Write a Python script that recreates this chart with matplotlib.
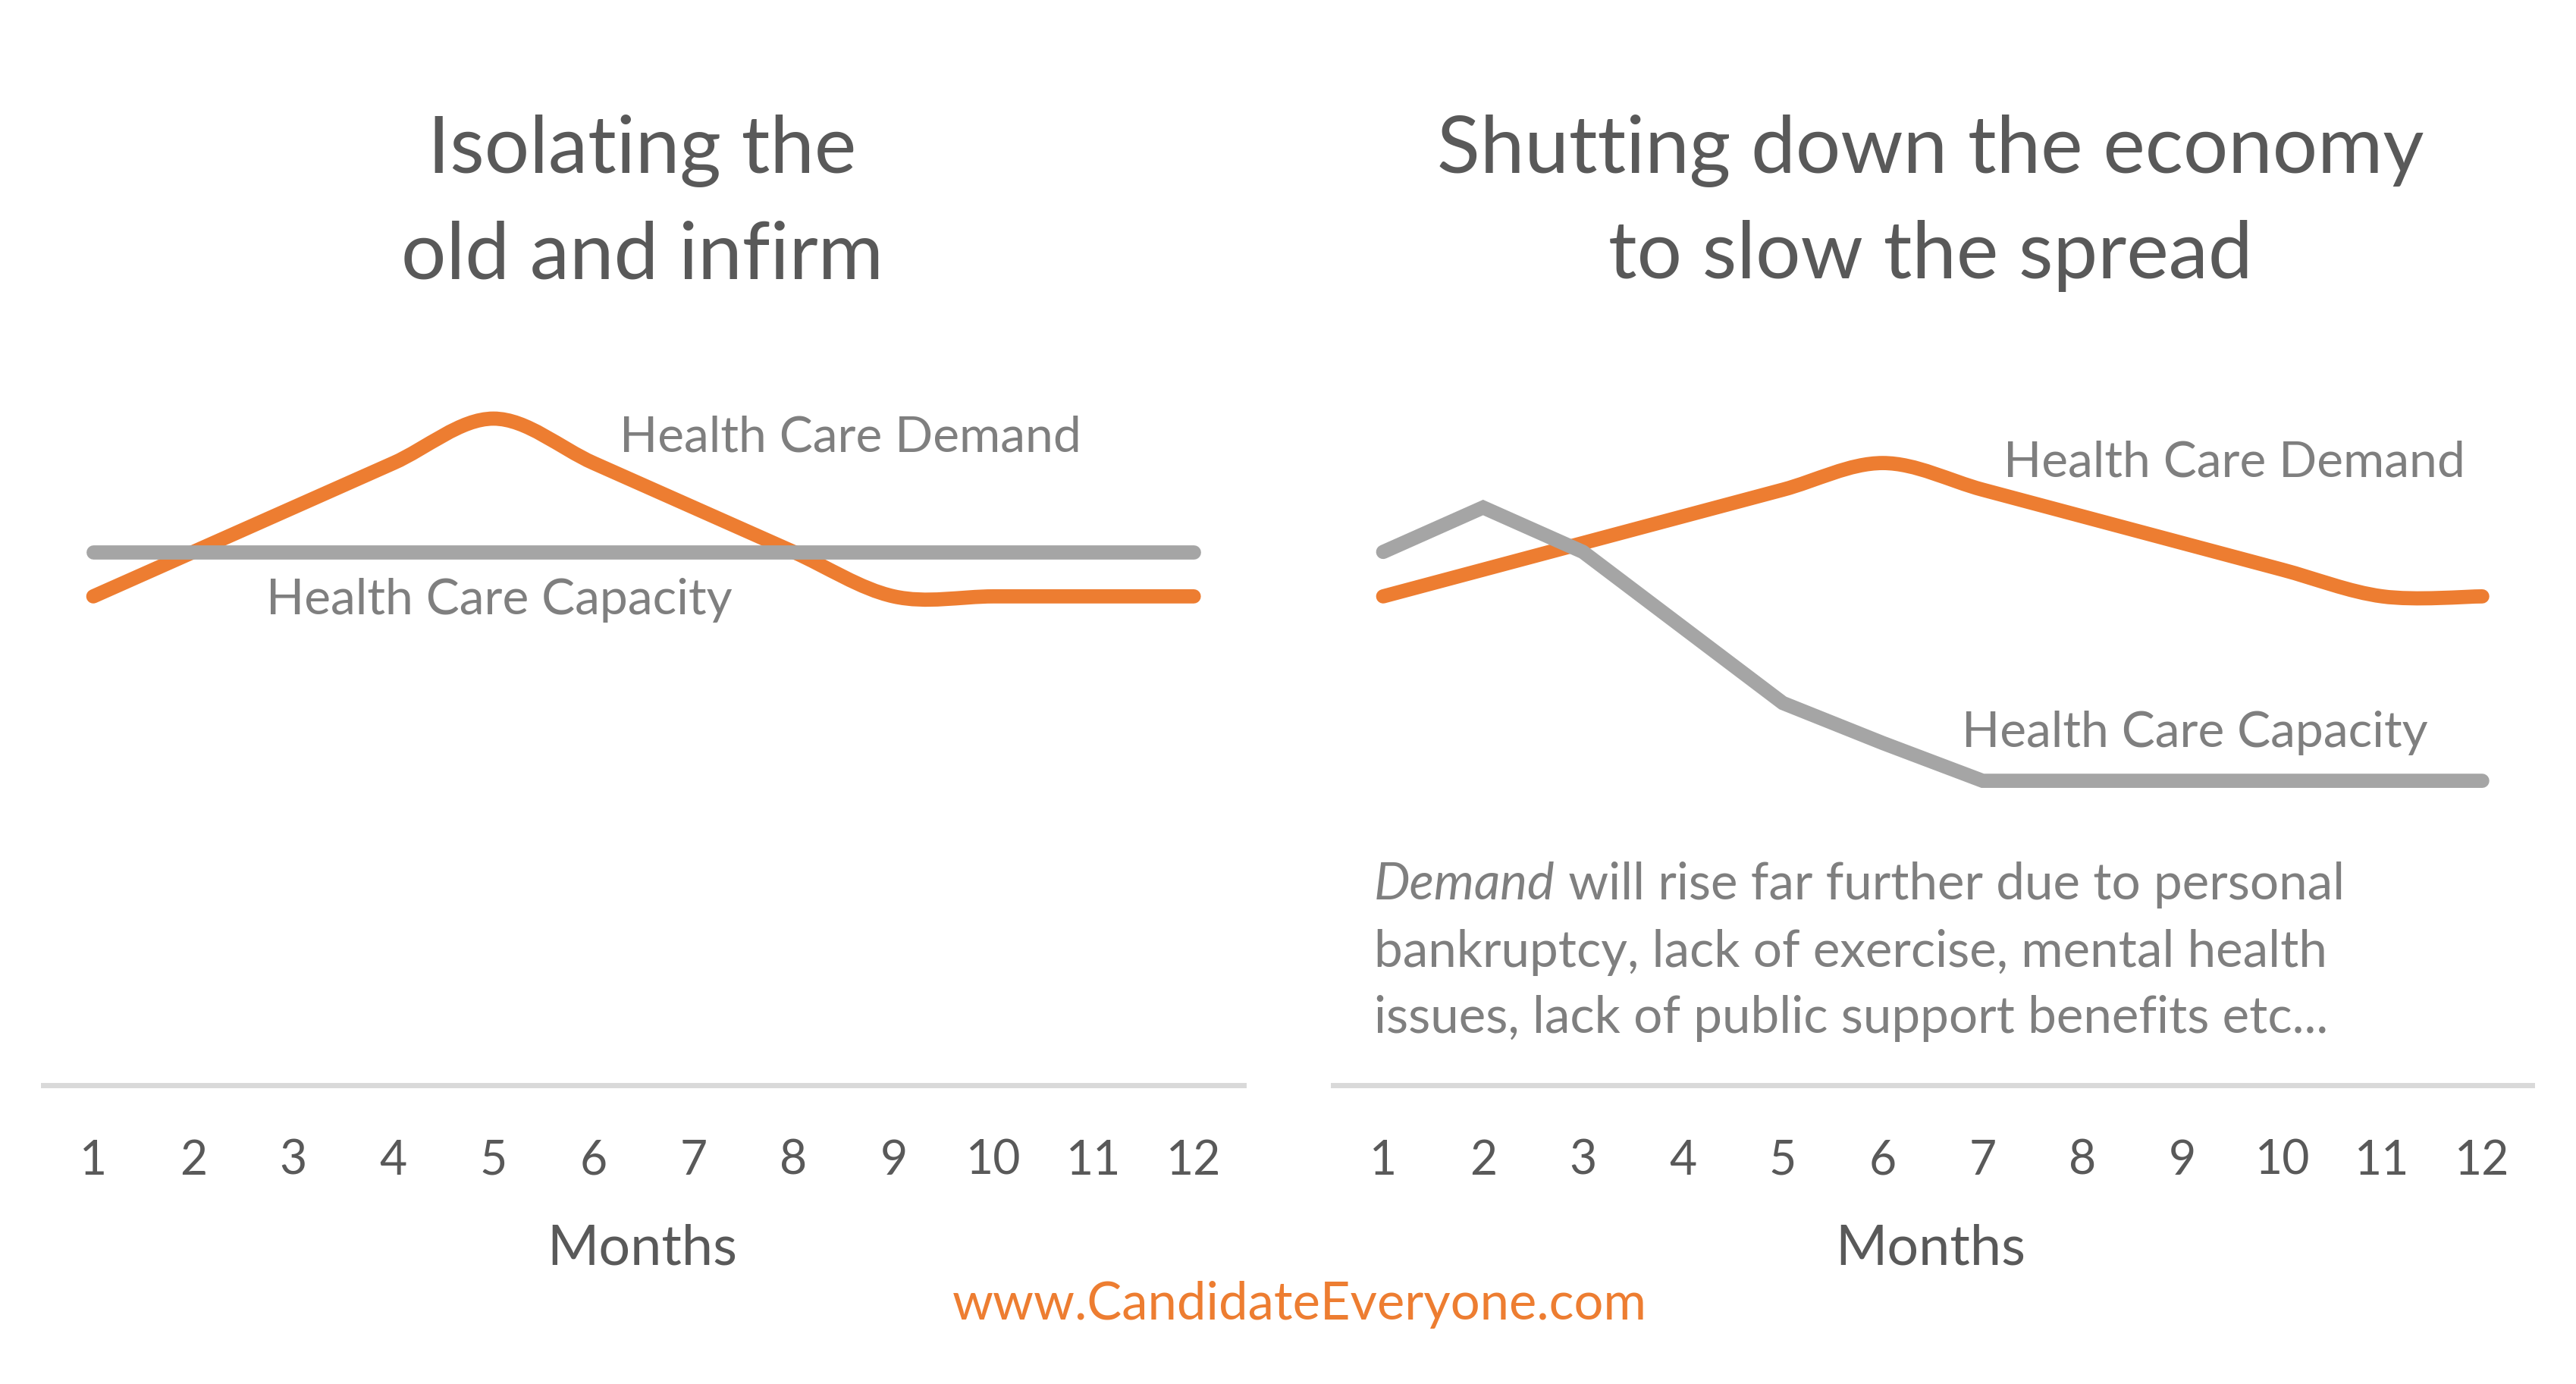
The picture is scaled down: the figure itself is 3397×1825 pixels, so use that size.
import matplotlib
matplotlib.use('Agg')
import matplotlib.pyplot as plt
import numpy as np
from matplotlib.path import Path
from matplotlib.patches import PathPatch

plt.rcParams['font.family'] = ['Lato', 'DejaVu Sans']

months = list(range(1, 13))
month_labels = [str(m) for m in months]

# left panel - isolating the old and infirm
left_demand = [11, 12, 13, 14, 15, 14, 13, 12, 11, 11, 11, 11]
left_capacity = [12, 12, 12, 12, 12, 12, 12, 12, 12, 12, 12, 12]

# right panel - shutting down the economy
right_demand = [11, 11.6, 12.2, 12.8, 13.4, 14, 13.4, 12.8, 12.2, 11.6, 11, 11]
right_capacity = [12, 13, 12, 10.3, 8.6, 7.7, 6.85, 6.85, 6.85, 6.85, 6.85, 6.85]

left_title = ['Isolating the', 'old and infirm']
right_title = ['Shutting down the economy', 'to slow the spread']
note_lines = ['bankruptcy, lack of exercise, mental health',
              'issues, lack of public support benefits etc...']

ORANGE = '#ED7D31'
GRAY = '#A5A5A5'
DARK = '#595959'
LABEL = '#7F7F7F'
LW = 13.5


def smooth_path(x, y):
    # excel style smoothed line: cubic bezier with catmull-rom control points
    pts = np.column_stack([x, y]).astype(float)
    n = len(pts)
    verts = [pts[0]]
    codes = [Path.MOVETO]
    for i in range(n - 1):
        p0 = pts[max(i - 1, 0)]
        p1 = pts[i]
        p2 = pts[i + 1]
        p3 = pts[min(i + 2, n - 1)]
        verts += [p1 + (p2 - p0) / 6, p2 - (p3 - p1) / 6, p2]
        codes += [Path.CURVE4] * 3
    return Path(verts, codes)


def setup(ax):
    ax.set_xlim(0.5, 12.5)
    ax.set_ylim(0, 16.5)
    for s in ['top', 'left', 'right']:
        ax.spines[s].set_visible(False)
    ax.spines['bottom'].set_color('#D9D9D9')
    ax.spines['bottom'].set_linewidth(5)
    ax.set_yticks([])
    ax.set_xticks(months, month_labels)
    ax.tick_params(axis='x', length=0, pad=51, labelsize=45, labelcolor=DARK)


fig = plt.figure(figsize=(33.98, 18.25), dpi=100)
axL = fig.add_axes([0.0168, 0.2159, 0.4659, 0.5298])
axR = fig.add_axes([0.5174, 0.2159, 0.4653, 0.5298])
setup(axL)
setup(axR)

# left chart
axL.add_patch(PathPatch(smooth_path(months, left_demand), fill=False, edgecolor=ORANGE,
                        lw=LW, capstyle='round', joinstyle='round'))
axL.plot(months, left_capacity, color=GRAY, lw=LW, solid_capstyle='round')
axL.text(6.26, 14.58, 'Health Care Demand', fontsize=47.5, color=LABEL, va='center', ha='left')
axL.text(2.73, 10.91, 'Health Care Capacity', fontsize=47.5, color=LABEL, va='center', ha='left')

# right chart
axR.add_patch(PathPatch(smooth_path(months, right_demand), fill=False, edgecolor=ORANGE,
                        lw=LW, capstyle='round', joinstyle='round'))
axR.plot(months, right_capacity, color=GRAY, lw=LW, solid_capstyle='round',
         solid_joinstyle='miter')
axR.text(7.21, 14.01, 'Health Care Demand', fontsize=47.5, color=LABEL, va='center', ha='left')
axR.text(6.79, 7.93, 'Health Care Capacity', fontsize=47.5, color=LABEL, va='center', ha='left')

t = axR.text(0.91, 4.51, 'Demand', fontsize=48.5, color=LABEL, style='italic',
             va='center', ha='left')
axR.annotate(' will rise far further due to personal', xy=(1, 0), xycoords=t,
             fontsize=48.5, color=LABEL, va='bottom', ha='left')
axR.text(0.91, 2.99, note_lines[0], fontsize=48.5, color=LABEL, va='center', ha='left')
axR.text(0.91, 1.50, note_lines[1], fontsize=48.5, color=LABEL, va='center', ha='left')

# titles
for cx, lines in [(0.2493, left_title), (0.7492, right_title)]:
    fig.text(cx, 0.8912, lines[0], fontsize=75.5, color=DARK, ha='center', va='center')
    fig.text(cx, 0.8150, lines[1], fontsize=75.5, color=DARK, ha='center', va='center')
    fig.text(cx, 0.0978, 'Months', fontsize=53, color=DARK, ha='center', va='center')

fig.text(0.5044, 0.0573, 'www.CandidateEveryone.com', fontsize=49.5, color=ORANGE,
         ha='center', va='center')

fig.savefig('out.png', dpi=100, facecolor='white')
